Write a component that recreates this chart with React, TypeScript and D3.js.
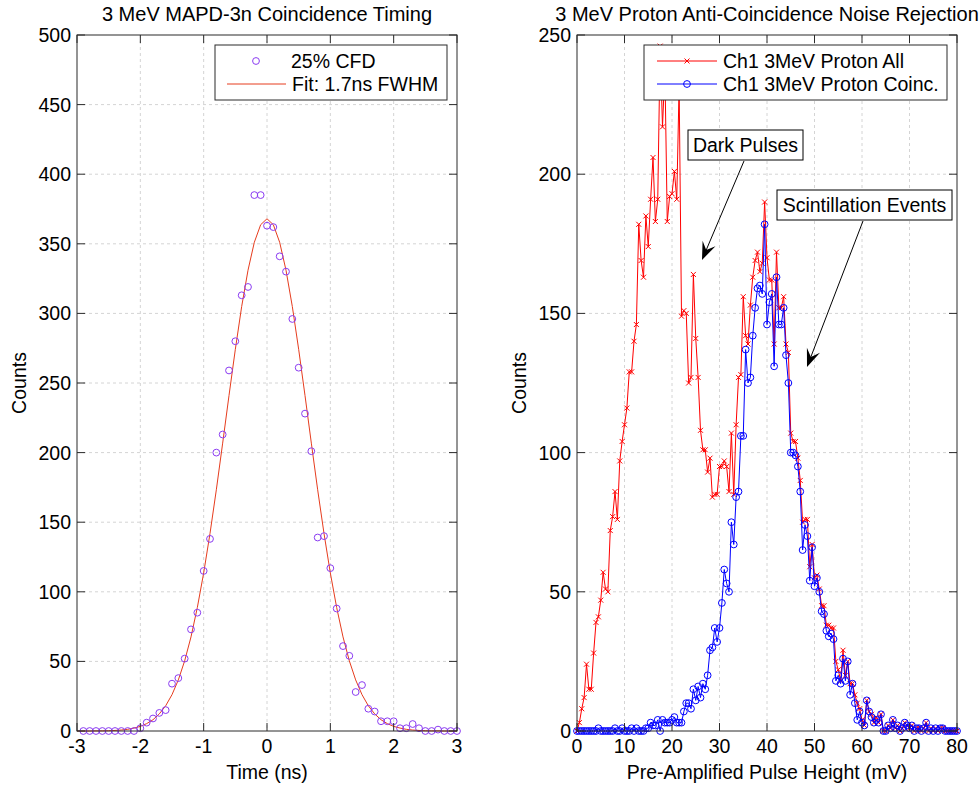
import React from "react";
import * as d3 from "d3";

const W = 980,
  H = 787;
const FONT = "'Liberation Sans', Arial, Helvetica, sans-serif";
const FS = 19.5;

// left panel: 25% CFD timing histogram + gaussian fit
const timeNs = [
  -2.9, -2.8, -2.7, -2.6, -2.5, -2.4, -2.3, -2.2, -2.1, -2.0, -1.9, -1.8, -1.7, -1.6, -1.5, -1.4, -1.3, -1.2, -1.1, -1.0,
  -0.9, -0.8, -0.7, -0.6, -0.5, -0.4, -0.3, -0.2, -0.1, 0, 0.1, 0.2, 0.3, 0.4, 0.5, 0.6, 0.7, 0.8, 0.9, 1.0,
  1.1, 1.2, 1.3, 1.4, 1.5, 1.6, 1.7, 1.8, 1.9, 2.0, 2.1, 2.2, 2.3, 2.4, 2.5, 2.6, 2.7, 2.8, 2.9, 3.0,
];
const cfdCounts = [
  0, 0, 0, 0, 0, 0, 0, 0, 0, 2, 6, 9, 13, 15, 34, 38, 52, 73, 85, 115,
  138, 200, 213, 259, 280, 313, 319, 385, 385, 363, 362, 341, 330, 296, 261, 228, 201, 139, 140, 117,
  88, 61, 54, 28, 33, 16, 14, 7, 7, 7, 2, 2, 5, 2, 0, 0, 1, 0, 0, 0,
];
const fitTimeNs = [
  -3.0, -2.9, -2.8, -2.7, -2.6, -2.5, -2.4, -2.3, -2.2, -2.1, -2.0, -1.9, -1.8, -1.7, -1.6, -1.5, -1.4, -1.3, -1.2, -1.1,
  -1.0, -0.9, -0.8, -0.7, -0.6, -0.5, -0.4, -0.3, -0.2, -0.1, 0, 0.1, 0.2, 0.3, 0.4, 0.5, 0.6, 0.7, 0.8, 0.9,
  1.0, 1.1, 1.2, 1.3, 1.4, 1.5, 1.6, 1.7, 1.8, 1.9, 2.0, 2.1, 2.2, 2.3, 2.4, 2.5, 2.6, 2.7, 2.8, 2.9, 3.0,
];
const fitCounts = [
  0, 0, 0, 0.1, 0.1, 0.2, 0.4, 0.7, 1.2, 2.1, 3.3, 5.3, 8.1, 12.3, 18.1, 26.1, 36.7, 50.4, 67.6, 88.7,
  113.5, 141.9, 173.3, 206.8, 241.0, 274.2, 304.9, 331.0, 351.1, 363.7, 368, 363.7, 351.1, 331.0, 304.9, 274.2, 241.0, 206.8, 173.3, 141.9,
  113.5, 88.7, 67.6, 50.4, 36.7, 26.1, 18.1, 12.3, 8.1, 5.3, 3.3, 2.1, 1.2, 0.7, 0.4, 0.2, 0.1, 0.1, 0, 0, 0,
];

// right panel: pulse height spectra
const pulseHeightMv = [
  0, 0.5, 1, 1.5, 2, 2.5, 3, 3.5, 4, 4.5, 5, 5.5, 6, 6.5, 7, 7.5, 8, 8.5, 9, 9.5,
  10, 10.5, 11, 11.5, 12, 12.5, 13, 13.5, 14, 14.5, 15, 15.5, 16, 16.5, 17, 17.5, 18, 18.5, 19, 19.5,
  20, 20.5, 21, 21.5, 22, 22.5, 23, 23.5, 24, 24.5, 25, 25.5, 26, 26.5, 27, 27.5, 28, 28.5, 29, 29.5,
  30, 30.5, 31, 31.5, 32, 32.5, 33, 33.5, 34, 34.5, 35, 35.5, 36, 36.5, 37, 37.5, 38, 38.5, 39, 39.5,
  40, 40.5, 41, 41.5, 42, 42.5, 43, 43.5, 44, 44.5, 45, 45.5, 46, 46.5, 47, 47.5, 48, 48.5, 49, 49.5,
  50, 50.5, 51, 51.5, 52, 52.5, 53, 53.5, 54, 54.5, 55, 55.5, 56, 56.5, 57, 57.5, 58, 58.5, 59, 59.5,
  60, 60.5, 61, 61.5, 62, 62.5, 63, 63.5, 64, 64.5, 65, 65.5, 66, 66.5, 67, 67.5, 68, 68.5, 69, 69.5,
  70, 70.5, 71, 71.5, 72, 72.5, 73, 73.5, 74, 74.5, 75, 75.5, 76, 76.5, 77, 77.5, 78, 78.5, 79, 79.5,
  80,
];
const protonAll = [
  0, 3, 8, 12, 24, 15, 15, 28, 39, 41, 47, 57, 51, 50, 72, 77, 86, 76, 97, 104,
  110, 116, 129, 129, 140, 146, 182, 169, 163, 185, 174, 191, 206, 183, 191, 246, 217, 238, 183, 192,
  193, 201, 191, 232, 149, 151, 150, 125, 127, 164, 141, 127, 108, 101, 101, 93, 98, 84, 85, 85,
  95, 95, 97, 95, 86, 107, 85, 110, 127, 128, 156, 142, 139, 153, 163, 169, 172, 165, 168, 190,
  170, 162, 162, 139, 172, 152, 152, 156, 139, 136, 107, 104, 104, 98, 90, 75, 76, 76, 59, 67,
  55, 56, 51, 45, 45, 38, 38, 37, 37, 25, 22, 18, 29, 20, 25, 17, 17, 13, 10, 8,
  4, 2, 11, 7, 6, 3, 5, 3, 6, 0, 0, 2, 1, 4, 1, 2, 0, 1, 3, 2,
  1, 2, 0, 1, 1, 0, 1, 3, 0, 1, 0, 1, 0, 1, 1, 0, 0, 0, 0, 0,
  0,
];
const protonCoinc = [
  0, 0, 0, 0, 0, 0, 0, 0, 0, 1, 0, 0, 0, 0, 0, 0, 1, 0, 0, 1,
  0, 0, 0, 1, 0, 1, 0, 0, 0, 1, 1, 3, 2, 2, 4, 0, 4, 3, 3, 3,
  4, 5, 3, 3, 3, 7, 10, 10, 8, 15, 11, 16, 12, 17, 15, 20, 29, 30, 37, 32,
  37, 46, 58, 53, 50, 75, 67, 84, 86, 106, 106, 137, 125, 127, 142, 152, 159, 160, 157, 182,
  146, 154, 157, 131, 163, 146, 146, 152, 135, 125, 100, 100, 99, 95, 86, 65, 74, 70, 54, 66,
  52, 55, 50, 43, 42, 36, 34, 35, 33, 18, 20, 17, 26, 18, 25, 13, 17, 10, 4, 7,
  3, 2, 11, 7, 5, 3, 4, 3, 6, 0, 0, 2, 1, 4, 1, 2, 0, 1, 3, 2,
  1, 2, 0, 1, 1, 0, 1, 3, 0, 1, 0, 1, 0, 1, 1, 0, 0, 0, 0, 0,
  0,
];

const leftXTicks = [-3, -2, -1, 0, 1, 2, 3];
const leftYTicks = [0, 50, 100, 150, 200, 250, 300, 350, 400, 450, 500];
const rightXTicks = [0, 10, 20, 30, 40, 50, 60, 70, 80];
const rightYTicks = [0, 50, 100, 150, 200, 250];

const TOP = 35,
  BOTTOM = 731;

function Frame({ x, y, xTicks, yTicks, title, xLabel, yLabelX, children }: any) {
  const [x0, x1] = x.range();
  const tl = 8;
  return (
    <g fontFamily={FONT} fontSize={FS} fill="#000">
      {xTicks.slice(1, -1).map((t: number) => (
        <line key={"gx" + t} x1={x(t)} x2={x(t)} y1={TOP} y2={BOTTOM} stroke="#d4d4d4" strokeDasharray="3,3" />
      ))}
      {yTicks.slice(1, -1).map((t: number) => (
        <line key={"gy" + t} x1={x0} x2={x1} y1={y(t)} y2={y(t)} stroke="#d4d4d4" strokeDasharray="3,3" />
      ))}
      {children}
      <rect x={x0} y={TOP} width={x1 - x0} height={BOTTOM - TOP} fill="none" stroke="#2b2b2b" strokeWidth={1} />
      {xTicks.map((t: number) => (
        <g key={"tx" + t} stroke="#2b2b2b">
          <line x1={x(t)} x2={x(t)} y1={BOTTOM} y2={BOTTOM - tl} />
          <line x1={x(t)} x2={x(t)} y1={TOP} y2={TOP + tl} />
        </g>
      ))}
      {yTicks.map((t: number) => (
        <g key={"ty" + t} stroke="#2b2b2b">
          <line x1={x0} x2={x0 + tl} y1={y(t)} y2={y(t)} />
          <line x1={x1} x2={x1 - tl} y1={y(t)} y2={y(t)} />
        </g>
      ))}
      {xTicks.map((t: number) => (
        <text key={"lx" + t} x={x(t)} y={BOTTOM + 22} textAnchor="middle">
          {t}
        </text>
      ))}
      {yTicks.map((t: number) => (
        <text key={"ly" + t} x={x0 - 6} y={y(t) + 7} textAnchor="end">
          {t}
        </text>
      ))}
      <text x={(x0 + x1) / 2} y={21} textAnchor="middle" fontSize={20}>
        {title}
      </text>
      <text x={(x0 + x1) / 2} y={BOTTOM + 48} textAnchor="middle">
        {xLabel}
      </text>
      <text transform={`translate(${yLabelX},${(TOP + BOTTOM) / 2}) rotate(-90)`} textAnchor="middle">
        Counts
      </text>
    </g>
  );
}

function Arrow({ from, to }: { from: [number, number]; to: [number, number] }) {
  const dx = to[0] - from[0],
    dy = to[1] - from[1];
  const len = Math.hypot(dx, dy);
  const ux = dx / len,
    uy = dy / len;
  const hl = 18,
    hw = 7;
  const bx = to[0] - ux * hl,
    by = to[1] - uy * hl;
  const nx = to[0] - ux * hl * 0.6,
    ny = to[1] - uy * hl * 0.6;
  const head = `M${to[0]},${to[1]}L${bx - uy * hw},${by + ux * hw}L${nx},${ny}L${bx + uy * hw},${by - ux * hw}Z`;
  return (
    <g>
      <line x1={from[0]} y1={from[1]} x2={nx} y2={ny} stroke="#000" strokeWidth={1} />
      <path d={head} fill="#000" />
    </g>
  );
}

const cross = (cx: number, cy: number, s = 2.5) =>
  `M${cx - s},${cy - s}L${cx + s},${cy + s}M${cx - s},${cy + s}L${cx + s},${cy - s}`;

export default function App() {
  const xl = d3.scaleLinear().domain([-3, 3]).range([77, 457]);
  const yl = d3.scaleLinear().domain([0, 500]).range([BOTTOM, TOP]);
  const xr = d3.scaleLinear().domain([0, 80]).range([577, 957]);
  const yr = d3.scaleLinear().domain([0, 250]).range([BOTTOM, TOP]);

  const fitLine = d3
    .line<number>()
    .x((_, i) => xl(fitTimeNs[i]))
    .y((d) => yl(d));
  const lineR = d3
    .line<number>()
    .x((_, i) => xr(pulseHeightMv[i]))
    .y((d) => yr(d));

  const cfdColor = "#8b3cf2";
  const fitColor = "#e63c1e";
  const red = "#ff0000";
  const blue = "#0000ff";

  return (
    <svg width={W} height={H} style={{ position: "absolute", left: 0, top: 0, background: "#fff" }}>
      <rect width={W} height={H} fill="#fff" />
      <Frame x={xl} y={yl} xTicks={leftXTicks} yTicks={leftYTicks} title="3 MeV MAPD-3n Coincidence Timing" xLabel="Time (ns)" yLabelX={26}>
        <path d={fitLine(fitCounts) || ""} fill="none" stroke={fitColor} strokeWidth={1} />
        {cfdCounts.map((c, i) => (
          <circle key={i} cx={xl(timeNs[i])} cy={yl(c)} r={3.4} fill="none" stroke={cfdColor} strokeWidth={1} />
        ))}
      </Frame>
      <Frame
        x={xr}
        y={yr}
        xTicks={rightXTicks}
        yTicks={rightYTicks}
        title="3 MeV Proton Anti-Coincidence Noise Rejection"
        xLabel="Pre-Amplified Pulse Height (mV)"
        yLabelX={526}
      >
        <path d={lineR(protonAll) || ""} fill="none" stroke={red} strokeWidth={1} />
        <path
          d={protonAll.map((v, i) => cross(xr(pulseHeightMv[i]), yr(v))).join("")}
          fill="none"
          stroke={red}
          strokeWidth={1}
        />
        <path d={lineR(protonCoinc) || ""} fill="none" stroke={blue} strokeWidth={1} />
        {protonCoinc.map((v, i) => (
          <circle key={i} cx={xr(pulseHeightMv[i])} cy={yr(v)} r={3.4} fill="none" stroke={blue} strokeWidth={1} />
        ))}
      </Frame>

      {/* left legend */}
      <g fontFamily={FONT} fontSize={FS}>
        <rect x={215} y={45} width={232} height={55} fill="#fff" stroke="#2b2b2b" />
        <circle cx={256} cy={61} r={3.4} fill="none" stroke={cfdColor} />
        <text x={291} y={68}>25% CFD</text>
        <line x1={227} x2={286} y1={84} y2={84} stroke={fitColor} />
        <text x={292} y={91}>Fit: 1.7ns FWHM</text>
      </g>

      {/* right legend */}
      <g fontFamily={FONT} fontSize={FS}>
        <rect x={644} y={45} width={303} height={55} fill="#fff" stroke="#2b2b2b" />
        <line x1={657} x2={717} y1={61} y2={61} stroke={red} />
        <path d={cross(687, 61)} stroke={red} fill="none" />
        <text x={723} y={68}>Ch1 3MeV Proton All</text>
        <line x1={657} x2={717} y1={84} y2={84} stroke={blue} />
        <circle cx={687} cy={84} r={3.4} fill="none" stroke={blue} />
        <text x={723} y={91}>Ch1 3MeV Proton Coinc.</text>
      </g>

      {/* annotations */}
      <g fontFamily={FONT} fontSize={FS}>
        <Arrow from={[744, 161]} to={[702, 260]} />
        <rect x={688} y={130} width={115} height={30} fill="#fff" stroke="#000" />
        <text x={745.5} y={152} textAnchor="middle">Dark Pulses</text>
        <Arrow from={[863, 221]} to={[807, 367]} />
        <rect x={777} y={190} width={175} height={30} fill="#fff" stroke="#000" />
        <text x={864.5} y={212} textAnchor="middle">Scintillation Events</text>
      </g>
    </svg>
  );
}
